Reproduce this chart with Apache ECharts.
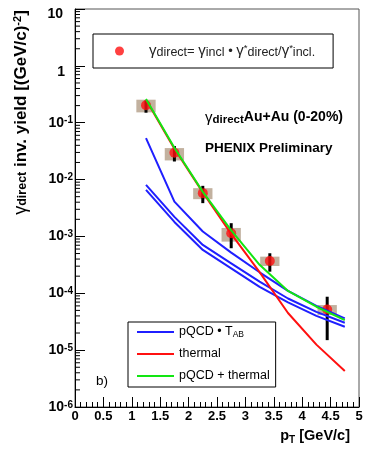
<!DOCTYPE html>
<html>
<head>
<meta charset="utf-8">
<script src="https://cdn.jsdelivr.net/npm/echarts@6/dist/echarts.min.js"></script>
<style>
  html, body { margin: 0; padding: 0; background: #fff; }
  #chart { width: 365px; height: 452px; }
</style>
</head>
<body>
<div id="chart"></div>
<script>
// gamma_direct yield in Au+Au (0-20%), PHENIX preliminary, log y axis.
// Data points with stat bars + syst boxes, theory curves (pQCD x T_AB band, thermal, sum).

var ptPoints  = [1.25, 1.75, 2.25, 2.75, 3.43, 4.44];
var yieldPts  = [0.203, 0.0296, 5.77e-3, 1.14e-3, 3.70e-4, 5.2e-5];
var statLow   = [0.150, 0.0208, 3.85e-3, 6.2e-4, 2.40e-4, 1.50e-5];
var statHigh  = [0.245, 0.0390, 7.76e-3, 1.71e-3, 5.06e-4, 8.7e-5];
var sysLow    = [0.152, 0.0217, 4.52e-3, 8.1e-4, 3.02e-4, 4.14e-5];
var sysHigh   = [0.254, 0.0358, 7.06e-3, 1.41e-3, 4.41e-4, 6.21e-5];

var ptCurve     = [1.25, 1.75, 2.25, 2.75, 3.25, 3.75, 4.25, 4.75];
var pqcdUpper   = [5.37e-2, 4.10e-3, 1.22e-3, 5.2e-4, 2.34e-4, 1.10e-4, 6.0e-5, 3.62e-5];
var pqcdMid     = [8.08e-3, 2.21e-3, 7.08e-4, 3.37e-4, 1.60e-4, 8.1e-5, 4.7e-5, 3.03e-5];
var pqcdLow     = [6.59e-3, 1.80e-3, 5.78e-4, 2.75e-4, 1.30e-4, 6.9e-5, 4.0e-5, 2.58e-5];
var thermal     = [0.254, 0.0348, 5.96e-3, 1.11e-3, 2.36e-4, 4.5e-5, 1.25e-5, 4.3e-6];
var pqcdThermal = [0.260, 0.0363, 6.08e-3, 1.28e-3, 3.17e-4, 1.10e-4, 5.8e-5, 3.38e-5];

var xTickLabels = ['0', '0.5', '1', '1.5', '2', '2.5', '3', '3.5', '4', '4.5', '5'];
var yTickLabels = ['10^-6', '10^-5', '10^-4', '10^-3', '10^-2', '10^-1', '1', '10'];
var yMinorTicks = [];
[-6, -5, -4, -3, -2, -1, 0].forEach(function (e) {
  [2, 3, 4, 5, 6, 7, 8, 9].forEach(function (k) { yMinorTicks.push(k * Math.pow(10, e)); });
});

var FONT = 'Liberation Sans, Arial, Helvetica, sans-serif';
var BLUE = '#1f1fff', RED = '#ff1010', GREEN = '#12e612', SYS = '#c2b19f';
var SYS_HALF = 0.17;

var NAME_DATA = 'gamma direct';
var NAME_PQCD = 'pQCD • T_AB', NAME_TH = 'thermal', NAME_SUM = 'pQCD + thermal';

function pairs(xs, ys) { return xs.map(function (x, i) { return [x, ys[i]]; }); }

function curve(name, ys, color) {
  return {
    type: 'line', name: name, data: pairs(ptCurve, ys), symbol: 'none', z: 4, silent: true,
    lineStyle: { color: color, width: 2 }, itemStyle: { color: color }
  };
}

var chart = echarts.init(document.getElementById('chart'), null, { renderer: 'canvas' });
chart.setOption({
  animation: false,
  backgroundColor: '#fff',
  grid: { left: 75, right: 6, top: 9, bottom: 45, show: true, borderColor: '#555', borderWidth: 1, outerBoundsMode: 'none' },
  xAxis: {
    type: 'value', min: 0, max: 5, interval: 0.5,
    axisLine: { lineStyle: { color: '#000', width: 1 } },
    axisTick: { inside: true, length: 10, lineStyle: { color: '#000' } },
    minorTick: { show: true, splitNumber: 5, length: 5, lineStyle: { color: '#000' } },
    splitLine: { show: false },
    axisLabel: {
      margin: 3, color: '#000', fontFamily: FONT, fontWeight: 'bold', fontSize: 13,
      formatter: function (v) { return xTickLabels[Math.round(v / 0.5)]; }
    }
  },
  yAxis: {
    type: 'log', logBase: 10, min: 1e-6, max: 10, splitNumber: 7,
    axisLine: { show: true, lineStyle: { color: '#000', width: 1 } },
    axisTick: { show: true, inside: true, length: 10, lineStyle: { color: '#000' } },
    splitLine: { show: false },
    axisLabel: {
      margin: 2, color: '#000', fontFamily: FONT, fontWeight: 'bold', lineHeight: 20,
      formatter: function (v) {
        var lab = yTickLabels[Math.round(Math.log10(v)) + 6];
        if (lab.indexOf('^') < 0) return lab === '1' ? '{one|1}' : '{ten|' + lab + '}';
        var p = lab.split('^');
        return '{b|' + p[0] + '}{s|' + p[1] + '}';
      },
      rich: {
        b: { fontFamily: FONT, fontWeight: 'bold', fontSize: 14, lineHeight: 14, verticalAlign: 'bottom' },
        s: { fontFamily: FONT, fontWeight: 'bold', fontSize: 10, lineHeight: 8, verticalAlign: 'top' },
        one: { fontFamily: FONT, fontWeight: 'bold', fontSize: 14, lineHeight: 14, padding: [12, 8, 0, 0] },
        ten: { fontFamily: FONT, fontWeight: 'bold', fontSize: 14, lineHeight: 14, padding: [10, 10, 0, 0] }
      }
    }
  },
  legend: [{
    data: [{ name: NAME_DATA, icon: 'circle' }],
    left: 93, top: 34, orient: 'horizontal', selectedMode: false, z: 10,
    padding: [9, 18, 9, 22], itemWidth: 9, itemHeight: 9,
    backgroundColor: '#fff', borderColor: '#000', borderWidth: 1,
    formatter: function () {
      return '{pad| }{g|γ}{sb|direct}{t|= }{g|γ}{sb|incl}{t| • }{g|γ}{sp|*}{sb|direct}{t|/}{g|γ}{sp|*}{sb|incl.}';
    },
    textStyle: {
      color: '#222', fontFamily: FONT, fontSize: 12, lineHeight: 18,
      rich: {
        pad: { width: 20, fontSize: 12, lineHeight: 16 },
        g: { fontFamily: FONT, fontSize: 15, lineHeight: 16, color: '#222' },
        t: { fontFamily: FONT, fontSize: 13, lineHeight: 16, color: '#222' },
        sb: { fontFamily: FONT, fontSize: 12.5, lineHeight: 12, verticalAlign: 'bottom', color: '#222' },
        sp: { fontFamily: FONT, fontSize: 9.5, lineHeight: 9, verticalAlign: 'top', color: '#222' }
      }
    }
  }, {
    data: [
      { name: NAME_PQCD, icon: 'rect' },
      { name: NAME_TH, icon: 'rect' },
      { name: NAME_SUM, icon: 'rect' }
    ],
    left: 128, top: 322, orient: 'vertical', selectedMode: false, z: 10,
    padding: [3, 6, 4, 9], itemWidth: 37, itemHeight: 2, itemGap: 8,
    backgroundColor: '#fff', borderColor: '#000', borderWidth: 1,
    formatter: function (name) {
      return name === NAME_PQCD ? '{t|pQCD • T}{sb|AB}' : '{t|' + name + '}';
    },
    textStyle: {
      color: '#000', fontFamily: FONT, fontSize: 12.5, lineHeight: 14,
      rich: {
        t: { fontFamily: FONT, fontSize: 12.5, lineHeight: 14, color: '#000' },
        sb: { fontFamily: FONT, fontSize: 8.5, lineHeight: 8, verticalAlign: 'bottom', color: '#000' }
      }
    }
  }],
  graphic: [
    {
      type: 'text', x: 21, y: 112.5, rotation: Math.PI / 2, silent: true,
      style: {
        text: '{g|γ}{sb|direct}{t| inv. yield [(GeV/c)}{sp|-2}{t|]}',
        align: 'center', verticalAlign: 'middle', lineHeight: 24, fill: '#000',
        rich: {
          g: { fontFamily: FONT, fontSize: 18, lineHeight: 17 },
          t: { fontFamily: FONT, fontWeight: 'bold', fontSize: 17, lineHeight: 17 },
          sb: { fontFamily: FONT, fontWeight: 'bold', fontSize: 12.5, lineHeight: 12, verticalAlign: 'bottom' },
          sp: { fontFamily: FONT, fontWeight: 'bold', fontSize: 11, lineHeight: 11, verticalAlign: 'top' }
        }
      }
    },
    {
      type: 'text', x: 350, y: 436.5, silent: true,
      style: {
        text: '{p|p}{sb|T}{t| [GeV/c]}',
        align: 'right', verticalAlign: 'middle', lineHeight: 24, fill: '#000',
        rich: {
          p: { fontFamily: FONT, fontWeight: 'bold', fontSize: 14.5, lineHeight: 17, verticalAlign: 'top' },
          t: { fontFamily: FONT, fontWeight: 'bold', fontSize: 14.5, lineHeight: 17, verticalAlign: 'top' },
          sb: { fontFamily: FONT, fontWeight: 'bold', fontSize: 10, lineHeight: 10, verticalAlign: 'bottom' }
        }
      }
    },
    {
      type: 'text', x: 205, y: 118, silent: true,
      style: {
        text: '{g|γ}{sb|direct}{sp|Au+Au (0-20%)}',
        align: 'left', verticalAlign: 'middle', lineHeight: 22, fill: '#000',
        rich: {
          g: { fontFamily: FONT, fontSize: 15, lineHeight: 15 },
          sb: { fontFamily: FONT, fontWeight: 'bold', fontSize: 11.5, lineHeight: 12, verticalAlign: 'bottom' },
          sp: { fontFamily: FONT, fontWeight: 'bold', fontSize: 14, lineHeight: 14, verticalAlign: 'top' }
        }
      }
    },
    {
      type: 'text', x: 205, y: 148, silent: true,
      style: { text: 'PHENIX Preliminary', align: 'left', verticalAlign: 'middle', fill: '#000',
               fontFamily: FONT, fontWeight: 'bold', fontSize: 13.5 }
    },
    {
      type: 'text', x: 96, y: 381, silent: true,
      style: { text: 'b)', align: 'left', verticalAlign: 'middle', fill: '#000', fontFamily: FONT, fontSize: 13.5 }
    }
  ],
  series: [
    {
      type: 'custom', name: 'sys', silent: true, z: 1,
      data: ptPoints.map(function (x, i) { return [x, sysLow[i], sysHigh[i]]; }),
      renderItem: function (params, api) {
        var x = api.value(0);
        var a = api.coord([x - SYS_HALF, api.value(2)]);
        var b = api.coord([x + SYS_HALF, api.value(1)]);
        return { type: 'rect', shape: { x: a[0], y: a[1], width: b[0] - a[0], height: b[1] - a[1] }, style: { fill: SYS } };
      }
    },
    {
      type: 'custom', name: 'stat', silent: true, z: 2,
      data: ptPoints.map(function (x, i) { return [x, statLow[i], statHigh[i]]; }),
      renderItem: function (params, api) {
        var a = api.coord([api.value(0), api.value(2)]);
        var b = api.coord([api.value(0), api.value(1)]);
        return { type: 'line', shape: { x1: a[0], y1: a[1], x2: b[0], y2: b[1] }, style: { stroke: '#000', lineWidth: 3 } };
      }
    },
    {
      type: 'scatter', name: NAME_DATA, data: pairs(ptPoints, yieldPts), z: 3, silent: true,
      symbol: 'circle', symbolSize: 10, itemStyle: { color: RED }
    },
    curve(NAME_PQCD, pqcdUpper, BLUE),
    curve(NAME_PQCD, pqcdMid, BLUE),
    curve(NAME_PQCD, pqcdLow, BLUE),
    curve(NAME_TH, thermal, RED),
    curve(NAME_SUM, pqcdThermal, GREEN),
    {
      type: 'custom', name: 'yminor', silent: true, z: 5,
      data: yMinorTicks.map(function (v) { return [0, v]; }),
      renderItem: function (params, api) {
        var p = api.coord([0, api.value(1)]);
        return { type: 'line', shape: { x1: p[0], y1: p[1], x2: p[0] + 5, y2: p[1] }, style: { stroke: '#000', lineWidth: 1 } };
      }
    }
  ]
});
</script>
</body>
</html>
